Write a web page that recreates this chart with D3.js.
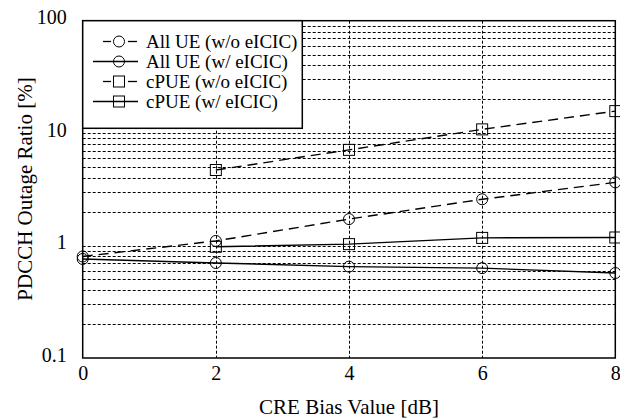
<!DOCTYPE html>
<html>
  <head>
    <meta charset="utf-8">
    <title>PDCCH Outage Ratio</title>
    <script src="https://d3js.org/d3.v7.min.js"></script>
    <style>
    body { margin: 0; background: #fff; }
    svg { font-family: "Liberation Serif", "Times New Roman", serif; }
    .grid-line {
      stroke: #000;
      stroke-width: 1px;
      stroke-dasharray: 3,2;
    }
    </style>
  </head>
  <body>
    <script>
      // data
      const biasValues = [0, 2, 4, 6, 8];
      const allUeNoEicic = [0.80, 1.10, 1.72, 2.58, 3.65];
      const allUeEicic = [0.76, 0.70, 0.65, 0.63, 0.57];
      const cpueBias = [2, 4, 6, 8];
      const cpueNoEicic = [4.7, 7.1, 10.8, 15.7];
      const cpueEicic = [0.975, 1.03, 1.17, 1.18];
      const xTicks = [0, 2, 4, 6, 8];
      const yTicks = [0.1, 1, 10, 100];
      const yTickLabels = ["0.1", "1", "10", "100"];
      const legendLabels = ["All UE (w/o eICIC)", "All UE (w/ eICIC)", "cPUE (w/o eICIC)", "cPUE (w/ eICIC)"];

      const width = 620, height = 418;
      const plotLeft = 82.7, plotRight = 615.3, plotTop = 20.7, plotBottom = 358;

      const svg = d3.select("body").append("svg")
          .attr("width", width)
          .attr("height", height);

      const x = d3.scaleLinear().domain([0, 8]).range([plotLeft, plotRight]);
      const y = d3.scaleLog().domain([0.1, 100]).range([plotBottom, plotTop]);

      // minor grid values for every decade
      const gridValues = [];
      [0.1, 1, 10].forEach(function(d) {
        for (let k = 1; k <= 9; k++) {
          const v = d * k;
          if (v > 0.1 && v < 100) gridValues.push(v);
        }
      });

      const grid = svg.append("g");
      grid.selectAll("line.h")
        .data(gridValues)
        .enter().append("line")
          .classed("grid-line", true)
          .attr("x1", plotLeft).attr("x2", plotRight)
          .attr("y1", d => Math.round(y(d)) + 0.5)
          .attr("y2", d => Math.round(y(d)) + 0.5);
      grid.selectAll("line.v")
        .data(xTicks.slice(1, -1))
        .enter().append("line")
          .classed("grid-line", true)
          .attr("x1", d => Math.round(x(d)) + 0.5)
          .attr("x2", d => Math.round(x(d)) + 0.5)
          .attr("y1", plotTop).attr("y2", plotBottom);

      // axes (labels only, the frame is drawn separately)
      const xAxis = d3.axisBottom(x).tickValues(xTicks).tickSize(0).tickPadding(8);
      svg.append("g")
          .attr("transform", "translate(0," + plotBottom + ")")
          .call(xAxis)
          .call(g => g.select(".domain").remove())
          .selectAll("text")
            .attr("font-family", "Liberation Serif")
            .attr("font-size", 20)
            .attr("fill", "#000");

      const yAxis = d3.axisLeft(y).tickValues(yTicks).tickSize(0).tickPadding(16)
          .tickFormat((d, i) => yTickLabels[i]);
      svg.append("g")
          .attr("transform", "translate(" + plotLeft + ",0)")
          .call(yAxis)
          .call(g => g.select(".domain").remove())
          .selectAll("text")
            .attr("font-family", "Liberation Serif")
            .attr("font-size", 20)
            .attr("fill", "#000")
            .attr("dy", "0.15em");

      svg.append("rect")
          .attr("x", plotLeft).attr("y", plotTop)
          .attr("width", plotRight - plotLeft).attr("height", plotBottom - plotTop)
          .attr("fill", "none")
          .attr("stroke", "#000")
          .attr("stroke-width", 1.5);

      // series
      const series = [
        { xs: biasValues, ys: allUeNoEicic, dash: "10,6", marker: "circle" },
        { xs: biasValues, ys: allUeEicic, dash: null, marker: "circle" },
        { xs: cpueBias, ys: cpueNoEicic, dash: "10,6", marker: "square" },
        { xs: cpueBias, ys: cpueEicic, dash: null, marker: "square" }
      ];

      const line = d3.line().x(d => x(d[0])).y(d => y(d[1]));

      function drawMarker(g, type, cx, cy) {
        if (type === "circle") {
          g.append("circle")
            .attr("cx", cx).attr("cy", cy).attr("r", 5.5)
            .attr("fill", "none").attr("stroke", "#000").attr("stroke-width", 1);
        } else {
          g.append("rect")
            .attr("x", cx - 5.5).attr("y", cy - 5.5)
            .attr("width", 11).attr("height", 11)
            .attr("fill", "none").attr("stroke", "#000").attr("stroke-width", 1);
        }
      }

      series.forEach(function(s) {
        const pts = s.xs.map((d, i) => [d, s.ys[i]]);
        const g = svg.append("g");
        g.append("path")
          .datum(pts)
          .attr("d", line)
          .attr("fill", "none")
          .attr("stroke", "#000")
          .attr("stroke-width", 1.4)
          .attr("stroke-dasharray", s.dash);
        pts.forEach(p => drawMarker(g, s.marker, x(p[0]), y(p[1])));
      });

      // legend
      const legend = svg.append("g");
      legend.append("rect")
          .attr("x", plotLeft).attr("y", plotTop)
          .attr("width", 302.3 - plotLeft).attr("height", 128.3 - plotTop)
          .attr("fill", "#fff")
          .attr("stroke", "#000")
          .attr("stroke-width", 1.5);

      series.forEach(function(s, i) {
        const cy = 41.5 + i * 20;
        const g = legend.append("g");
        if (s.dash) {
          g.append("line").attr("x1", 103).attr("x2", 111).attr("y1", cy).attr("y2", cy)
            .attr("stroke", "#000").attr("stroke-width", 1.3);
          g.append("line").attr("x1", 128).attr("x2", 137).attr("y1", cy).attr("y2", cy)
            .attr("stroke", "#000").attr("stroke-width", 1.3);
        } else {
          g.append("line").attr("x1", 93).attr("x2", 138).attr("y1", cy).attr("y2", cy)
            .attr("stroke", "#000").attr("stroke-width", 1.3);
        }
        drawMarker(g, s.marker, 119, cy);
        g.append("text")
          .attr("x", 146).attr("y", cy)
          .attr("dy", "0.33em")
          .attr("font-size", 19)
          .text(legendLabels[i]);
      });

      // axis titles
      svg.append("text")
          .attr("x", (plotLeft + plotRight) / 2)
          .attr("y", 407)
          .attr("dy", "0.33em")
          .attr("text-anchor", "middle")
          .attr("font-size", 21)
          .text("CRE Bias Value [dB]");

      svg.append("text")
          .attr("transform", "translate(25," + 189 + ") rotate(-90)")
          .attr("dy", "0.33em")
          .attr("text-anchor", "middle")
          .attr("font-size", 21)
          .text("PDCCH Outage Ratio [%]");
    </script>
  </body>
</html>
